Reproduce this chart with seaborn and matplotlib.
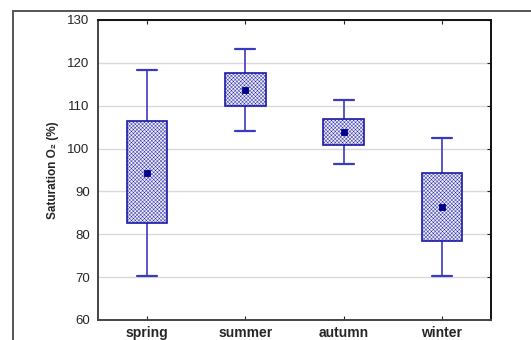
import matplotlib
matplotlib.use("Agg")
import matplotlib.pyplot as plt
from matplotlib.lines import Line2D
import numpy as np
import pandas as pd
import seaborn as sns

# values (Statistica-style box: centre, box, whiskers)
seasons = ["spring", "summer", "autumn", "winter"]
whisker_low = [70.3, 104.2, 96.4, 70.3]
box_low = [82.6, 109.9, 100.8, 78.4]
center = [94.2, 113.7, 103.9, 86.3]
box_high = [106.4, 117.6, 106.9, 94.2]
whisker_high = [118.4, 123.2, 111.3, 102.4]

# five points per season -> quartiles land exactly on the box edges
rows = []
for i, s in enumerate(seasons):
    for v in (whisker_low[i], box_low[i], center[i], box_high[i], whisker_high[i]):
        rows.append({"season": s, "sat": v})
data = pd.DataFrame(rows)
means = pd.DataFrame({"season": seasons, "sat": center})

sns.set_style("white")
plt.rcParams["font.family"] = ["Liberation Sans", "DejaVu Sans"]
plt.rcParams["hatch.linewidth"] = 0.3

box_edge = "#1a1aa6"
whisk_col = "#3a3abf"

fig = plt.figure(figsize=(5.31, 3.40), dpi=100)
ax = fig.add_axes([98 / 531, 1 - 320 / 340, 393 / 531, 300 / 340])

sns.boxplot(
    data=data, x="season", y="sat", order=seasons, ax=ax,
    whis=np.inf, width=0.41, showfliers=False,
    color="#ececfa", linecolor=box_edge, linewidth=1.2,
    whiskerprops=dict(color=whisk_col, linewidth=1.2),
    capprops=dict(color=whisk_col, linewidth=1.6),
    medianprops=dict(linewidth=0),
)
for p in ax.patches:
    p.set_hatch("xxxxxxxxx")
    p.set_edgecolor(box_edge)
    p.set_zorder(3)

n_lines = len(ax.lines)
sns.pointplot(
    data=means, x="season", y="sat", order=seasons, ax=ax,
    linestyle="none", marker="s", markersize=3.5, color="#00008b",
    errorbar=None,
)
for ln in ax.lines[n_lines:]:
    ln.set_zorder(6)
for c in ax.collections:
    c.set_zorder(6)

ax.set_xlim(-0.5, 3.5)
ax.set_ylim(60, 130)
ax.set_yticks(range(60, 131, 10))
ax.grid(axis="y", color="#d9d9d9", linewidth=1.0)
ax.set_axisbelow(True)

ax.set_xlabel("")
ax.set_ylabel("Saturation O\u2082 (%)", fontsize=8.5, fontweight="bold")
ax.yaxis.set_label_coords(-0.1, 0.5)

ax.tick_params(axis="y", which="both", direction="in", left=False, right=True,
               length=3, labelsize=9.5, pad=6, color="#222222")
ax.tick_params(axis="x", which="both", direction="in", bottom=True, top=True,
               length=3, labelsize=10, pad=4.5, color="#222222")
for lab in ax.get_xticklabels():
    lab.set_fontweight("bold")

for side in ["top", "right"]:
    ax.spines[side].set_color("#111111")
    ax.spines[side].set_linewidth(1.4)
for side in ["left", "bottom"]:
    ax.spines[side].set_color("#444444")
    ax.spines[side].set_linewidth(1.4)

# outer frame of the exported graph
fig.add_artist(Line2D([13 / 531, 13 / 531], [0, 1 - 11 / 340],
                      color="#555555", linewidth=1.4, transform=fig.transFigure))
fig.add_artist(Line2D([13 / 531, 1], [1 - 11 / 340, 1 - 11 / 340],
                      color="#555555", linewidth=1.4, transform=fig.transFigure))

fig.savefig("out.png", dpi=100)
